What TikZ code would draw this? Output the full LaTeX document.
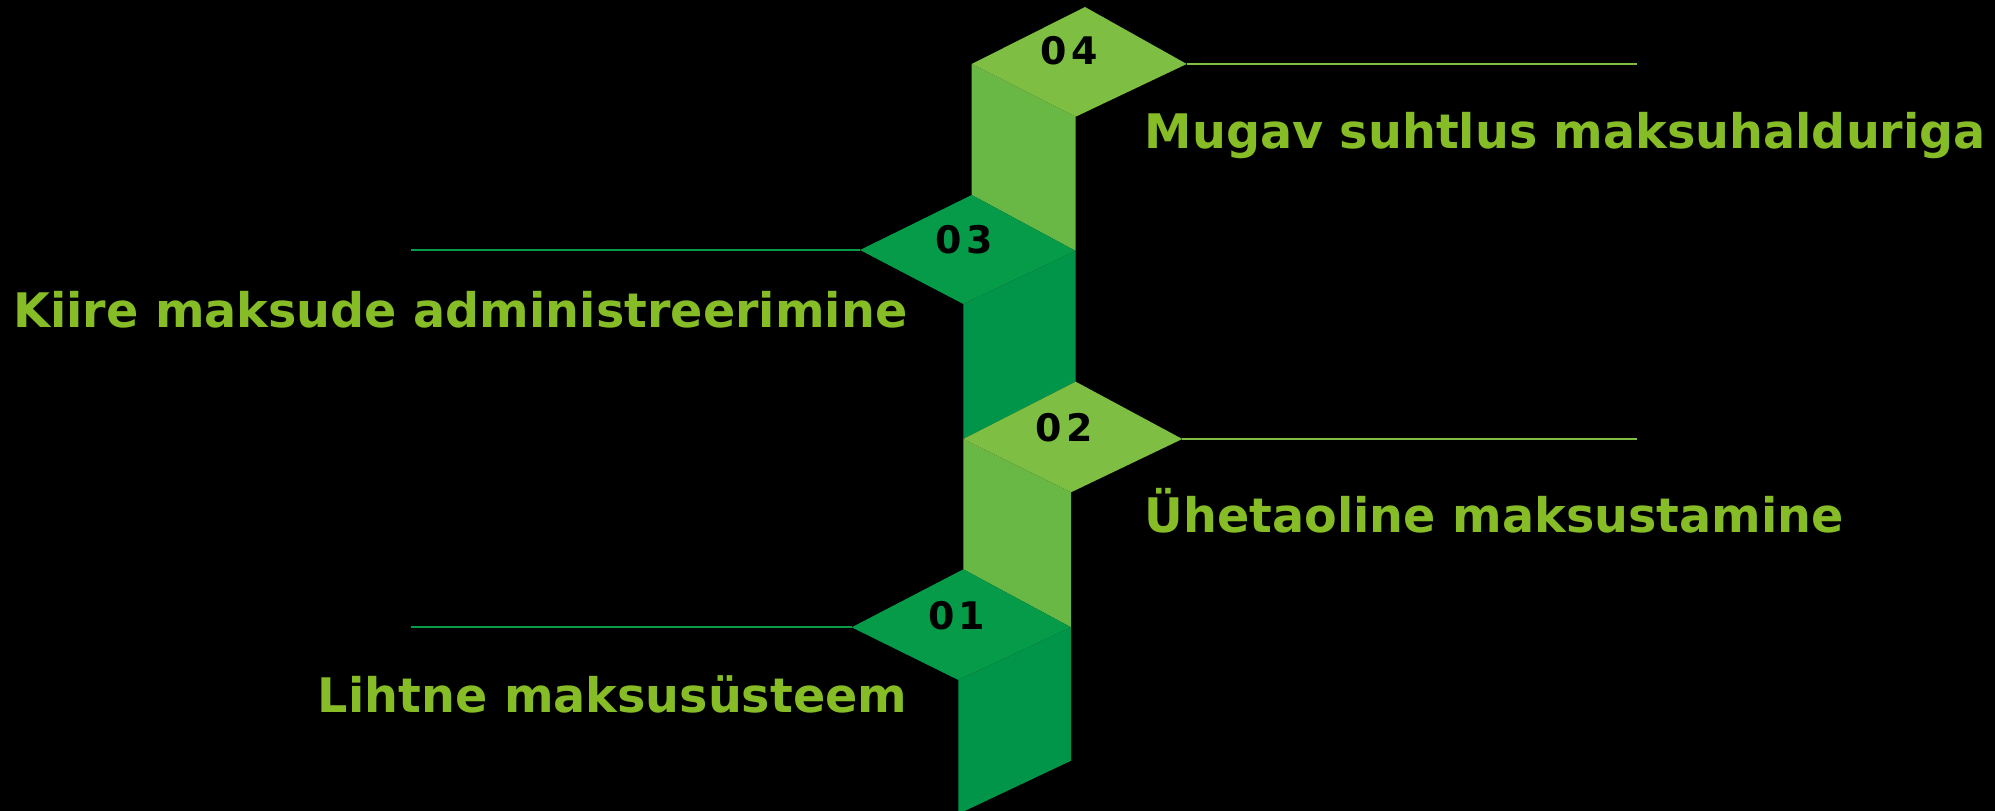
\documentclass[tikz,border=0pt]{standalone}
\usepackage{fontspec}
\setmainfont{DejaVu Sans}
\newfontfamily\numfont[LetterSpace=12]{DejaVu Sans}
\definecolor{topLight}{HTML}{7DBE43}
\definecolor{sideLight}{HTML}{69B845}
\definecolor{topDark}{HTML}{069B48}
\definecolor{sideDark}{HTML}{009548}
\definecolor{textGreen}{HTML}{86BC25}
\tikzset{
  steptext/.style={font=\bfseries\fontsize{13.55pt}{16pt}\selectfont,text=textGreen,inner sep=0},
  stepnum/.style={font=\numfont\bfseries\fontsize{10.8pt}{12pt}\selectfont,inner sep=0},
  leader/.style={line width=0.2mm}
}

\begin{document}
\begin{tikzpicture}[x=0.1mm,y=-0.1mm]
  \fill[black] (0,0) rectangle (1995,811);
  \useasboundingbox (0,0) rectangle (1995,811);
  \clip (0,0) rectangle (1995,811);

  % diamond corners: t=top, l=left, r=right, b=bottom
  \coordinate (t4) at (1085,7);    \coordinate (l4) at (971.7,64);
  \coordinate (r4) at (1186.7,64); \coordinate (b4) at (1075.7,116.7);
  \coordinate (t3) at (971.7,195); \coordinate (l3) at (860,250);
  \coordinate (r3) at (1075.7,251);\coordinate (b3) at (963.3,304);
  \coordinate (t2) at (1075.7,381.7); \coordinate (l2) at (963.3,439);
  \coordinate (r2) at (1182.3,439);   \coordinate (b2) at (1071,492.3);
  \coordinate (t1) at (963.3,569.3);  \coordinate (l1) at (851.7,627.3);
  \coordinate (r1) at (1071,627.3);   \coordinate (b1) at (958.3,680);
  \coordinate (foot) at (1071,760.7); \coordinate (footl) at (958.3,814);

  % columns
  \fill[sideLight] (l4) -- (b4) -- (r3) -- (t3) -- cycle;
  \fill[sideDark]  (b3) -- (r3) -- (t2) -- (l2) -- cycle;
  \fill[sideLight] (l2) -- (b2) -- (r1) -- (t1) -- cycle;
  \fill[sideDark]  (b1) -- (r1) -- (foot) -- (footl) -- cycle;

  % tops
  \fill[topLight] (l4) -- (t4) -- (r4) -- (b4) -- cycle;
  \fill[topDark]  (l3) -- (t3) -- (r3) -- (b3) -- cycle;
  \fill[topLight] (l2) -- (t2) -- (r2) -- (b2) -- cycle;
  \fill[topDark]  (l1) -- (t1) -- (r1) -- (b1) -- cycle;

  \node[stepnum] (n4) at (1069,51) {04};
  \node[stepnum] (n3) at (964,240) {03};
  \node[stepnum] (n2) at (1064.5,427.5) {02};
  \node[stepnum] (n1) at (956.7,616) {01};

  % leader lines
  \coordinate (e4) at (1637,64);
  \coordinate (e3) at (411,250);
  \coordinate (e2) at (1637,439);
  \coordinate (e1) at (411,627.3);
  \draw[leader,topLight] (r4) -- (e4);
  \draw[leader,topDark] (l3) -- (e3);
  \draw[leader,topLight] (r2) -- (e2);
  \draw[leader,topDark] (l1) -- (e1);

  \node[steptext,anchor=base west] (s4) at (1144,149) {Mugav suhtlus maksuhalduriga};
  \node[steptext,anchor=base east] (s3) at (908,328) {Kiire maksude administreerimine};
  \node[steptext,anchor=base west] (s2) at (1144,533) {Ühetaoline maksustamine};
  \node[steptext,anchor=base east] (s1) at (908,712) {Lihtne maksusüsteem};
\end{tikzpicture}
\end{document}
